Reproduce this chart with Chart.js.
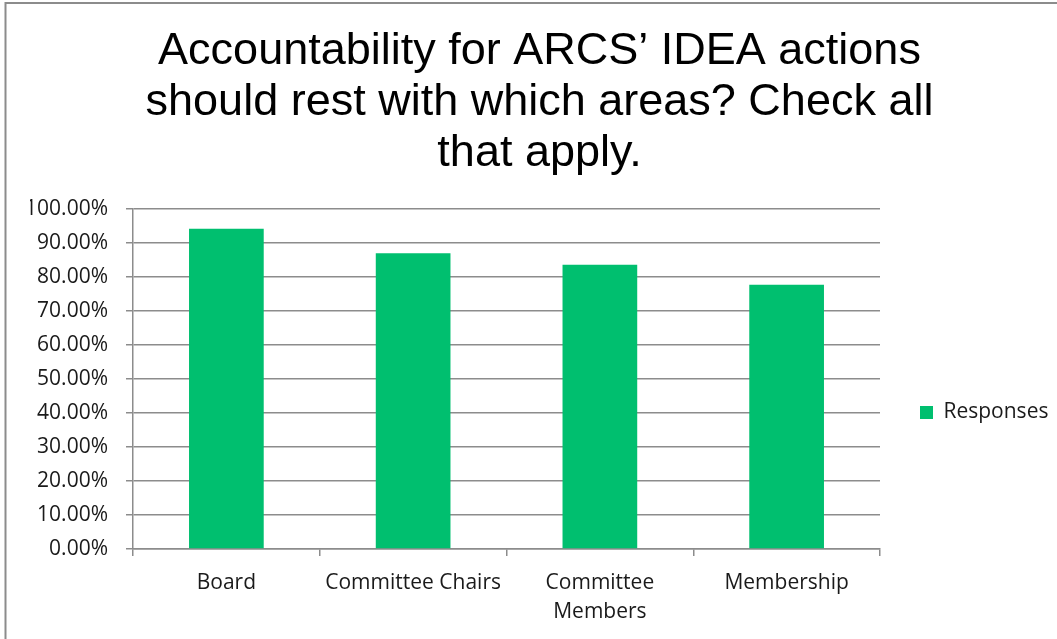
<!DOCTYPE html>
<html>
<head>
<meta charset="utf-8">
<script src="https://cdn.jsdelivr.net/npm/chart.js@4.4.1/dist/chart.umd.min.js"></script>
<style>
  html, body { margin: 0; padding: 0; background: #ffffff; }
  #wrap { position: relative; width: 1057px; height: 639px; }
</style>
</head>
<body>
<div id="wrap"><canvas id="c" width="1057" height="639"></canvas></div>
<script>
// ---- data ----
const titleLines = ["Accountability for ARCS\u2019 IDEA actions", "should rest with which areas? Check all", "that apply."];
const categories = ["Board", "Committee Chairs", ["Committee", "Members"], "Membership"];
const seriesName = "Responses";
const responses = [94.1, 86.9, 83.5, 77.6];
const yMin = 0;
const yMax = 100;
const yStep = 10;

const borderPlugin = {
  id: 'outerBorder',
  afterDraw(chart) {
    const ctx = chart.ctx;
    ctx.save();
    ctx.strokeStyle = '#8c8c8c';
    ctx.lineWidth = 2;
    ctx.beginPath();
    ctx.moveTo(5.5, 639);
    ctx.lineTo(5.5, 3);
    ctx.lineTo(1057, 3);
    ctx.stroke();
    ctx.restore();
  }
};

const gridColor = '#8c8c8c';

new Chart(document.getElementById('c'), {
  type: 'bar',
  data: {
    labels: categories,
    datasets: [{
      label: seriesName,
      data: responses,
      backgroundColor: '#00bf6f',
      borderWidth: 0,
      barPercentage: 0.4,
      categoryPercentage: 1.0
    }]
  },
  options: {
    responsive: false,
    animation: false,
    devicePixelRatio: 1,
    layout: { padding: { left: 30, right: 8, top: 0, bottom: 0 } },
    plugins: {
      tooltip: { enabled: false },
      title: {
        display: true,
        text: titleLines,
        color: '#000000',
        font: { family: 'Liberation Sans', size: 45, weight: 'normal', lineHeight: 1.13 },
        padding: { top: 26, bottom: 30 }
      },
      legend: {
        display: true,
        position: 'right',
        maxWidth: 169,
        title: { display: true, text: ' ', padding: { top: 81, bottom: 81 }, font: { family: 'Open Sans', size: 20 } },
        labels: {
          boxWidth: 13,
          boxHeight: 13,
          padding: 40,
          color: '#1a1a1a',
          font: { family: 'Open Sans', size: 21 }
        }
      }
    },
    scales: {
      x: {
        afterFit(scale) { scale.height = 90; },
        border: { display: true, color: gridColor, width: 1.5 },
        grid: { display: true, drawOnChartArea: false, drawTicks: true, tickLength: 7, color: gridColor, lineWidth: 1.5, offset: true },
        ticks: {
          color: '#1a1a1a',
          padding: 13,
          maxRotation: 0,
          autoSkip: false,
          font: { family: 'Open Sans', size: 21, lineHeight: 1.38 }
        }
      },
      y: {
        min: yMin,
        max: yMax,
        afterFit(scale) { scale.width = 103; },
        border: { display: true, color: gridColor, width: 1.5 },
        grid: { color: gridColor, lineWidth: 1.5, drawTicks: true, tickLength: 7 },
        ticks: {
          stepSize: yStep,
          color: '#1a1a1a',
          padding: 18,
          font: { family: 'Open Sans', size: 21 },
          callback: (v) => v.toFixed(2) + '%'
        }
      }
    }
  },
  plugins: [borderPlugin]
});
</script>
</body>
</html>
